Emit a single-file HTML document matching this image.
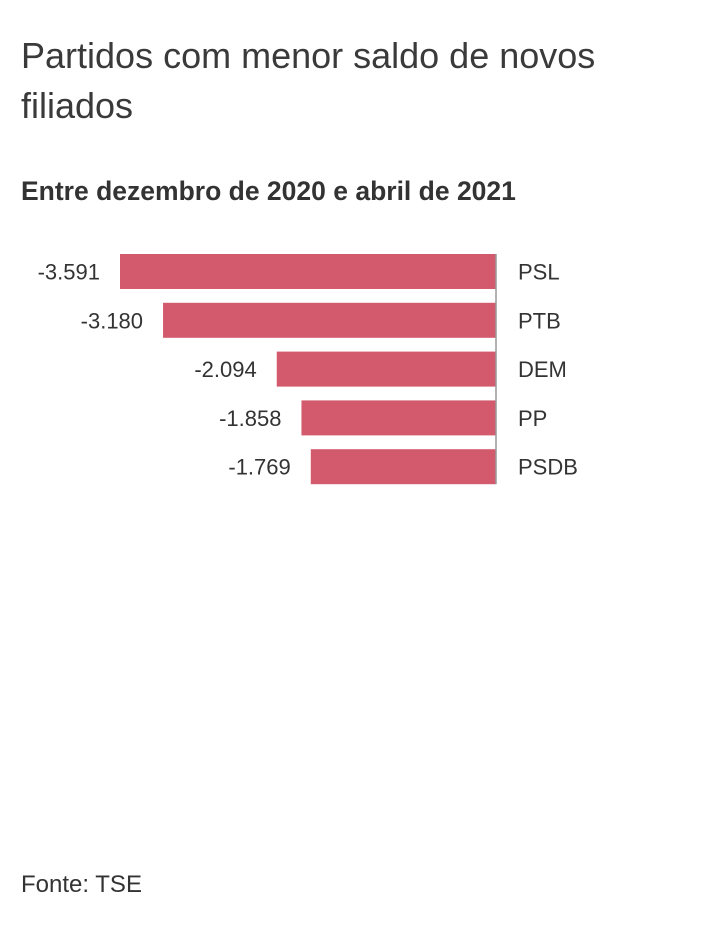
<!DOCTYPE html>
<html><head><meta charset="utf-8">
<style>
body{margin:0;background:#fff;font-family:"Liberation Sans",sans-serif;color:#333;}
#wrap{position:relative;width:720px;height:946px;overflow:hidden;}
.t{position:absolute;left:21px;margin:0;}
</style></head>
<body>
<div id="wrap">
<h1 class="t" style="top:31px;font-size:36px;font-weight:normal;line-height:50px;color:#3a3a3a;">Partidos com menor saldo de novos<br>filiados</h1>
<h2 class="t" style="top:176px;font-size:26.5px;font-weight:bold;color:#333;">Entre dezembro de 2020 e abril de 2021</h2>
<svg id="chart" width="720" height="520" style="position:absolute;left:0;top:0"></svg>
<div class="t" style="top:871px;font-size:24px;color:#333;">Fonte: TSE</div>
</div>
<script>
const categories = ["PSL","PTB","DEM","PP","PSDB"];
const values = [-3591,-3180,-2094,-1858,-1769];
const valueLabels = ["-3.591","-3.180","-2.094","-1.858","-1.769"];
const NS="http://www.w3.org/2000/svg";
const svg=document.getElementById('chart');
const zeroX=496, pxPerUnit=376/3591;
function x(v){return zeroX+v*pxPerUnit;}
const top0=254, step=48.8, bh=35;
function y(i){return top0+i*step;}
categories.forEach((c,i)=>{
  const r=document.createElementNS(NS,'rect');
  
  
  const x0=Math.min(x(values[i]),zeroX);
  r.setAttribute('x',x0);r.setAttribute('y',y(i));
  r.setAttribute('width',Math.abs(x(values[i])-zeroX));r.setAttribute('height',bh);
  r.setAttribute('fill','#d35a6c');
  svg.appendChild(r);
  const vt=document.createElementNS(NS,'text');
  
  
  vt.setAttribute('x',x0-20);vt.setAttribute('y',y(i)+bh/2+8);
  vt.setAttribute('text-anchor','end');vt.setAttribute('font-size','22');vt.setAttribute('fill','#333');
  vt.textContent=valueLabels[i];svg.appendChild(vt);
  const ct=document.createElementNS(NS,'text');
  
  
  ct.setAttribute('x',518);ct.setAttribute('y',y(i)+bh/2+8);
  ct.setAttribute('font-size','22');ct.setAttribute('fill','#333');
  ct.textContent=c;svg.appendChild(ct);
});
const ax=document.createElementNS(NS,'line');


ax.setAttribute('x1',zeroX);ax.setAttribute('x2',zeroX);
ax.setAttribute('y1',y(0));ax.setAttribute('y2',y(categories.length-1)+bh);
ax.setAttribute('stroke','#999');ax.setAttribute('stroke-width','1.5');
svg.appendChild(ax);
</script>
</body></html>
